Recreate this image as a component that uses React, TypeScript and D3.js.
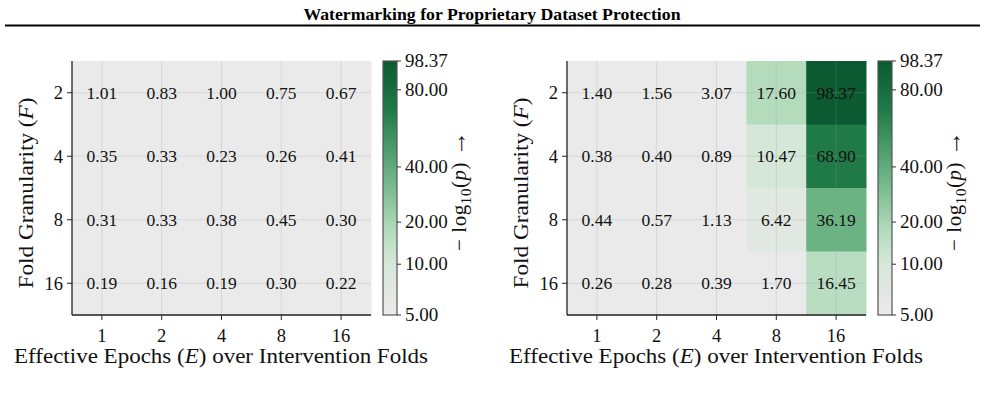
import React, { useRef, useEffect } from 'react';
import * as d3 from 'd3';

// -log10(p) detection scores, rows = fold granularity F, cols = effective epochs E
const epochs = ['1', '2', '4', '8', '16'];
const folds = ['2', '4', '8', '16'];
const baselineScores = [
  [1.01, 0.83, 1.0, 0.75, 0.67],
  [0.35, 0.33, 0.23, 0.26, 0.41],
  [0.31, 0.33, 0.38, 0.45, 0.3],
  [0.19, 0.16, 0.19, 0.3, 0.22],
];
const watermarkScores = [
  [1.4, 1.56, 3.07, 17.6, 98.37],
  [0.38, 0.4, 0.89, 10.47, 68.9],
  [0.44, 0.57, 1.13, 6.42, 36.19],
  [0.26, 0.28, 0.39, 1.7, 16.45],
];
const colorbarTicks = [5, 10, 20, 40, 80, 98.37];
const vmin = 5;
const gamma = 0.55;

const SERIF = "'Liberation Serif', 'Times New Roman', Times, serif";
const cmapStops: [number, string][] = [
  [0, '#eaeaea'],
  [0.1, '#e1e8e2'],
  [0.21, '#d5e7d8'],
  [0.32, '#b7ddbf'],
  [0.55, '#6bb283'],
  [0.81, '#1f7a47'],
  [1, '#0b5a32'],
];

const App = () => {
  const ref = useRef<SVGSVGElement>(null);

  useEffect(() => {
    const svg = d3.select(ref.current);
    svg.selectAll('*').remove();

    const vmax = d3.max(watermarkScores.flat()) as number;
    const norm = d3.scaleLinear().domain([vmin, vmax]).clamp(true);
    const powerNorm = (v: number) => Math.pow(norm(v), gamma);
    const cmap = d3.scaleLinear<string>()
      .domain(cmapStops.map(d => d[0]))
      .range(cmapStops.map(d => d[1]))
      .interpolate(d3.interpolateRgb);
    const color = (v: number) => cmap(powerNorm(v));

    // header
    svg.append('text').attr('x', 492).attr('y', 20).attr('text-anchor', 'middle')
      .attr('font-family', SERIF).attr('font-weight', 'bold').attr('font-size', 16.5)
      .attr('textLength', 377).attr('lengthAdjust', 'spacingAndGlyphs')
      .text('Watermarking for Proprietary Dataset Protection');
    svg.append('line').attr('x1', 5).attr('x2', 980).attr('y1', 25.5).attr('y2', 25.5)
      .attr('stroke', '#000').attr('stroke-width', 2);

    const grad = svg.append('defs').append('linearGradient').attr('id', 'cbar-grad')
      .attr('x1', 0).attr('x2', 0).attr('y1', 1).attr('y2', 0);
    d3.range(0, 1.0001, 0.02).forEach(t => {
      grad.append('stop').attr('offset', t).attr('stop-color', cmap(t));
    });

    const width = 299;
    const height = 254;
    const top = 61;

    const drawPanel = (scores: number[][], left: number) => {
      const g = svg.append('g').attr('transform', `translate(${left},${top})`)
        .attr('font-family', SERIF);
      const x = d3.scaleBand().domain(epochs).range([0, width]);
      const y = d3.scaleBand().domain(folds).range([0, height]);

      g.selectAll('g.row').data(scores).join('g').attr('class', 'row')
        .each(function (row, i) {
          d3.select(this).selectAll('rect').data(row).join('rect')
            .attr('x', (d, j) => x(epochs[j]) as number)
            .attr('y', y(folds[i]) as number)
            .attr('width', x.bandwidth() + 0.5)
            .attr('height', y.bandwidth() + 0.5)
            .attr('fill', d => color(d));
        });

      // faint grid at tick centres
      g.selectAll('line.gx').data(epochs).join('line').attr('class', 'gx')
        .attr('x1', d => (x(d) as number) + x.bandwidth() / 2).attr('x2', d => (x(d) as number) + x.bandwidth() / 2)
        .attr('y1', 0).attr('y2', height)
        .attr('stroke', '#a0a0a0').attr('stroke-opacity', 0.25).attr('stroke-width', 1);
      g.selectAll('line.gy').data(folds).join('line').attr('class', 'gy')
        .attr('y1', d => (y(d) as number) + y.bandwidth() / 2).attr('y2', d => (y(d) as number) + y.bandwidth() / 2)
        .attr('x1', 0).attr('x2', width)
        .attr('stroke', '#a0a0a0').attr('stroke-opacity', 0.25).attr('stroke-width', 1);

      g.selectAll('g.rowtext').data(scores).join('g').attr('class', 'rowtext')
        .each(function (row, i) {
          d3.select(this).selectAll('text').data(row).join('text')
            .attr('x', (d, j) => (x(epochs[j]) as number) + x.bandwidth() / 2)
            .attr('y', (y(folds[i]) as number) + y.bandwidth() / 2 + 6)
            .attr('text-anchor', 'middle')
            .attr('font-size', 17.5).attr('fill', '#111')
            .text(d => d.toFixed(2));
        });

      const xAxis = g.append('g').attr('transform', `translate(0,${height})`)
        .call(d3.axisBottom(x).tickSize(5).tickPadding(4));
      const yAxis = g.append('g').call(d3.axisLeft(y).tickSize(5).tickPadding(4));
      [xAxis, yAxis].forEach(a => {
        a.attr('font-family', SERIF).attr('font-size', 18.5);
        a.select('.domain').remove();
        a.selectAll('line').attr('stroke', '#222').attr('stroke-width', 1);
        a.selectAll('text').attr('fill', '#111');
      });
      xAxis.selectAll('text').attr('dy', '0.95em');
      yAxis.selectAll('text').attr('dy', '0.34em');

      // left + bottom spines
      g.append('line').attr('x1', 0).attr('x2', 0).attr('y1', 0).attr('y2', height)
        .attr('stroke', '#222').attr('stroke-width', 1.3);
      g.append('line').attr('x1', 0).attr('x2', width).attr('y1', height).attr('y2', height)
        .attr('stroke', '#222').attr('stroke-width', 1.3);

      const xl = g.append('text').attr('x', -58).attr('y', 302)
        .attr('font-size', 21).attr('fill', '#111')
        .attr('textLength', 414).attr('lengthAdjust', 'spacingAndGlyphs');
      xl.append('tspan').text('Effective Epochs (');
      xl.append('tspan').attr('font-style', 'italic').text('E');
      xl.append('tspan').text(') over Intervention Folds');

      const yl = g.append('text').attr('transform', `translate(-39,${height / 2 + 5}) rotate(-90)`)
        .attr('text-anchor', 'middle')
        .attr('font-size', 21).attr('fill', '#111')
        .attr('textLength', 191).attr('lengthAdjust', 'spacingAndGlyphs');
      yl.append('tspan').text('Fold Granularity (');
      yl.append('tspan').attr('font-style', 'italic').text('F');
      yl.append('tspan').text(')');

      // colorbar
      const cb = g.append('g').attr('transform', `translate(${width + 12},0)`);
      const cbW = 14;
      const cbY = d3.scaleLinear().domain([0, 1]).range([height, 0]);
      cb.append('rect').attr('width', cbW).attr('height', height).attr('fill', 'url(#cbar-grad)')
        .attr('stroke', '#555').attr('stroke-width', 1.2);
      cb.selectAll('line.tick').data(colorbarTicks).join('line').attr('class', 'tick')
        .attr('x1', cbW).attr('x2', cbW + 4)
        .attr('y1', d => cbY(powerNorm(d))).attr('y2', d => cbY(powerNorm(d)))
        .attr('stroke', '#333').attr('stroke-width', 1);
      cb.selectAll('text.tl').data(colorbarTicks).join('text').attr('class', 'tl')
        .attr('x', cbW + 8).attr('y', d => cbY(powerNorm(d)) + 6)
        .attr('font-size', 19).attr('fill', '#111')
        .text(d => d.toFixed(2));

      const cl = g.append('text').attr('transform', `translate(${width + 95},${height / 2 + 3}) rotate(-90)`)
        .attr('text-anchor', 'middle')
        .attr('font-size', 21).attr('fill', '#111')
        .attr('textLength', 120).attr('lengthAdjust', 'spacing');
      cl.append('tspan').text('− log');
      cl.append('tspan').attr('dy', 5).attr('font-size', 15).text('10');
      cl.append('tspan').attr('dy', -5).text('(');
      cl.append('tspan').attr('font-style', 'italic').text('p');
      cl.append('tspan').text(')  ');
      cl.append('tspan').attr('font-size', 25).text('→');
    };

    drawPanel(baselineScores, 72);
    drawPanel(watermarkScores, 567);
  }, []);

  return (
    <svg ref={ref} width={985} height={394}
      style={{ position: 'fixed', left: 0, top: 0, background: '#fff' }} />
  );
};

export default App;
